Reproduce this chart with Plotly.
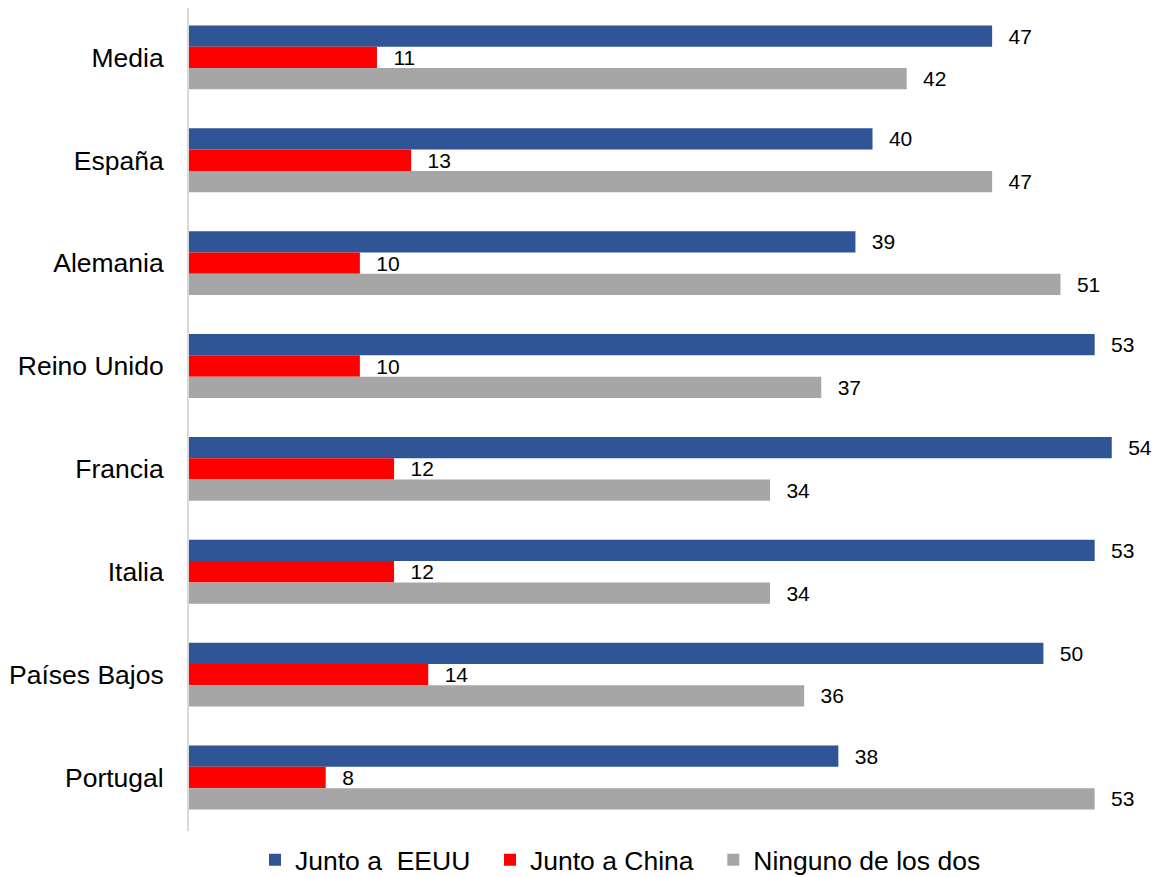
import plotly.graph_objects as go

categories = ["Media", "España", "Alemania", "Reino Unido", "Francia", "Italia", "Países Bajos", "Portugal"]
eeuu = [47, 40, 39, 53, 54, 53, 50, 38]
china = [11, 13, 10, 10, 12, 12, 14, 8]
ninguno = [42, 47, 51, 37, 34, 34, 36, 53]

series_names = ["Junto a  EEUU", "Junto a China", "Ninguno de los dos"]
colors = ["#2F5597", "#FF0000", "#A6A6A6"]
FONT = "Liberation Sans, Arial, sans-serif"
pad = "\u00a0\u00a0\u200a"

fig = go.Figure()
for name, vals, col in zip(series_names, [eeuu, china, ninguno], colors):
    fig.add_trace(go.Bar(
        y=categories, x=vals, name=name + "\u00a0\u00a0", orientation="h",
        marker=dict(color=col, line=dict(width=0)),
        text=vals, texttemplate=pad + "%{x}", textposition="outside",
        textfont=dict(family=FONT, size=21, color="#000000"),
        cliponaxis=False, constraintext="none",
    ))

fig.update_layout(
    width=1161, height=877,
    margin=dict(l=181, r=0, t=0, b=54, autoexpand=False),
    barmode="group", bargap=0.379, bargroupgap=0,
    plot_bgcolor="white", paper_bgcolor="white",
    font=dict(family=FONT, color="#000000"),
    xaxis=dict(range=[0, 57.35], showgrid=False, showticklabels=False, zeroline=False,
               showline=False, ticks=""),
    yaxis=dict(range=[7.52, -0.48], categoryorder="array", categoryarray=categories,
               showgrid=False, showline=True, linecolor="#D9D9D9", linewidth=2,
               ticks="", ticklabelstandoff=18,
               tickfont=dict(family=FONT, size=26.5, color="#000000")),
    legend=dict(orientation="h", xref="container", yref="container",
                x=247 / 1161, xanchor="left", y=(877 - 852) / 877, yanchor="middle",
                font=dict(family=FONT, size=26.5, color="#000000"),
                bgcolor="rgba(0,0,0,0)"),
)

fig.write_html("out.html")
